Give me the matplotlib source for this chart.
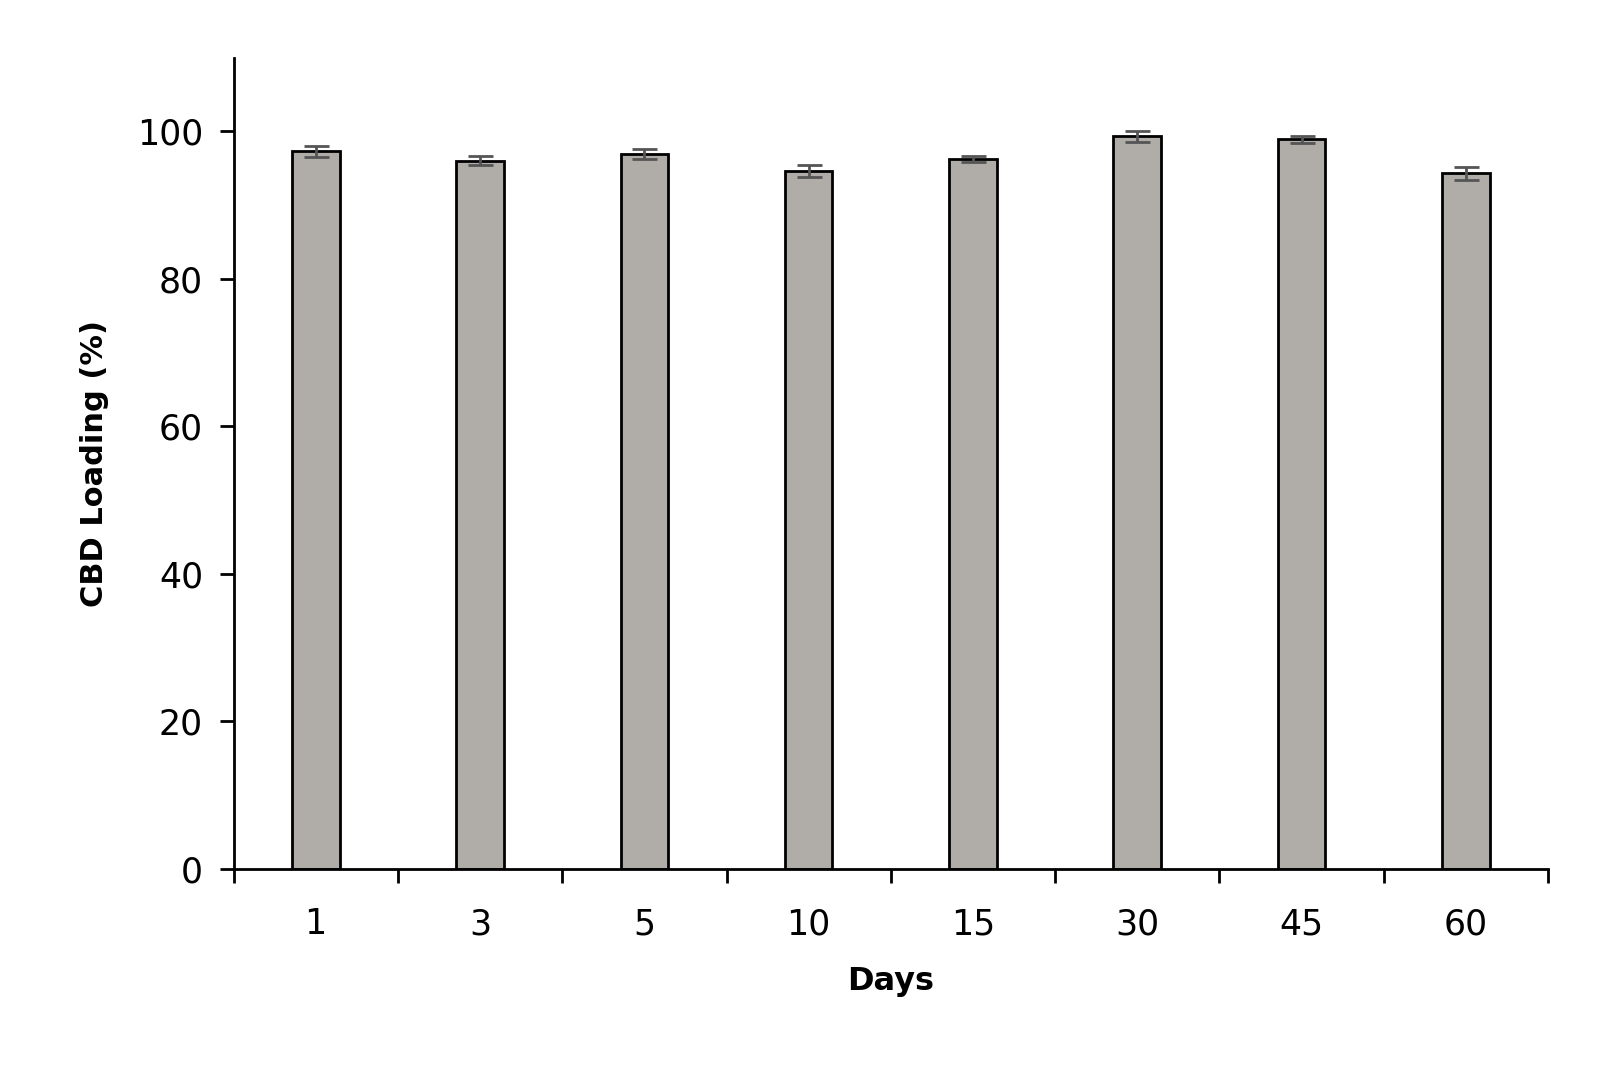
import matplotlib.pyplot as plt
import numpy as np

# values
days = ['1', '3', '5', '10', '15', '30', '45', '60']
loading = [97.3, 96.0, 96.9, 94.6, 96.2, 99.3, 98.9, 94.3]
err = [0.75, 0.6, 0.7, 0.8, 0.4, 0.75, 0.5, 0.9]

fig = plt.figure(figsize=(16, 10.67), dpi=100)
ax = fig.add_axes([0.146, 0.186, 0.8215, 0.76])

x = np.arange(len(days))
ax.bar(x, loading, width=0.29, color='#b0aca8', edgecolor='black', linewidth=2,
       yerr=err, error_kw=dict(ecolor='#555555', elinewidth=2, capsize=9, capthick=2),
       zorder=2)

ax.set_xlim(-0.5, len(days) - 0.5)
ax.set_ylim(0, 110)
ax.set_yticks([0, 20, 40, 60, 80, 100])
ax.set_xticks(x)
ax.set_xticklabels(days)
ax.set_xticks(np.arange(len(days) + 1) - 0.5, minor=True)
ax.tick_params(axis='x', which='major', length=0, pad=28, labelsize=25)
ax.tick_params(axis='x', which='minor', length=10, width=2, direction='out')
ax.tick_params(axis='y', length=10, width=2, direction='out', pad=12, labelsize=25)

for side in ['top', 'right']:
    ax.spines[side].set_visible(False)
for side in ['left', 'bottom']:
    ax.spines[side].set_linewidth(2)

ax.set_xlabel('Days', fontsize=23, fontweight='bold', labelpad=18)
ax.set_ylabel('CBD Loading (%)', fontsize=22, fontweight='bold', labelpad=20)

fig.savefig('out.png', dpi=100)
